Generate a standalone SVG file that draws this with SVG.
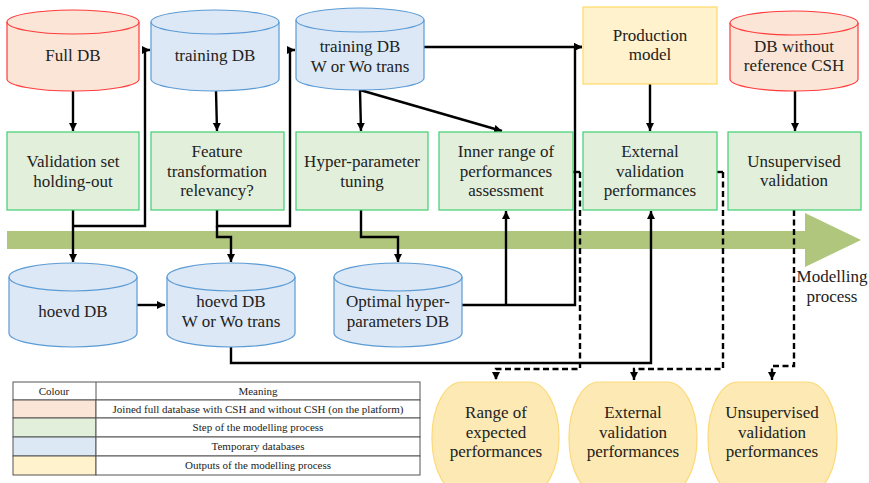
<svg xmlns="http://www.w3.org/2000/svg" width="869" height="483" viewBox="0 0 869 483" font-family="'Liberation Serif', 'Times New Roman', 'DejaVu Serif', serif">
  <style>
    text { fill: #222; text-anchor: middle; }
    .t { font-size: 17px; }
    .lg { font-size: 11px; }
    .red { fill: #fbe5d6; stroke: #ff3b3b; stroke-width: 1.2; }
    .blue { fill: #dce8f5; stroke: #5b9bd5; stroke-width: 1.2; }
    .step { fill: #e2efda; stroke: #3ecf72; stroke-width: 1.2; }
    .prod { fill: #fff2cc; stroke: #ffd966; stroke-width: 1.2; }
    .out { fill: #fde9b3; stroke: #fcd97a; stroke-width: 1.2; }
    .rim { fill: none; }
    .ln { fill: none; stroke: #000; stroke-width: 2.4; }
    .arr { marker-end: url(#ah); }
    .dash { stroke-dasharray: 6 3.5; }
    .cell { stroke: #555; stroke-width: 1; }
  </style>
  <defs>
    <marker id="ah" markerUnits="userSpaceOnUse" markerWidth="10" markerHeight="10" refX="8" refY="4" orient="auto">
      <path d="M0,0 L8,4 L0,8 z" fill="#000"/>
    </marker>
  </defs>

  <rect width="869" height="483" fill="#fff"/>

  <!-- process direction arrow -->
  <g id="process-arrow">
    <polygon points="7,231 805,231 805,213 861,240 805,267 805,249 7,249" fill="#b0c67c"/>
    <text class="t" x="832" y="282">Modelling</text>
    <text class="t" x="832" y="302">process</text>
  </g>

  <!-- connectors -->
  <g id="connectors">
    <path class="ln arr" d="M73,91 V131"/>
    <path class="ln arr" d="M216,91 L217,131"/>
    <path class="ln arr" d="M73,210 V262"/>
    <path class="ln arr" d="M73,226 H145 V50 H150"/>
    <path class="ln arr" d="M217,210 V226 H290 V50 H295"/>
    <path class="ln arr" d="M217,226 V237 H231 V262"/>
    <path class="ln arr" d="M137,305 H165"/>
    <path class="ln arr" d="M360,90 L361,131"/>
    <path class="ln arr" d="M360,90 L502,131"/>
    <path class="ln arr" d="M361,210 V237 H398 V262"/>
    <path class="ln arr" d="M424,47 H582"/>
    <path class="ln arr" d="M462,305 H575 V47 H582"/>
    <path class="ln arr" d="M506,305 V211"/>
    <path class="ln arr" d="M231,347 V363 H651 V211"/>
    <path class="ln arr" d="M650,84 V131"/>
    <path class="ln arr" d="M795,91 V131"/>
    <path class="ln" d="M573,172 H580"/>
    <path class="ln arr dash" d="M580,172 V369 H496 V380"/>
    <path class="ln" d="M717,172 H723"/>
    <path class="ln arr dash" d="M723,172 V369 H634 V380"/>
    <path class="ln arr dash" d="M794,210 V366 H772 V380"/>
  </g>

  <!-- databases -->
  <g id="full-db">
    <path class="red" d="M7,22 A66,12 0 0 1 139,22 V79 A66,12 0 0 1 7,79 Z"/>
    <path class="red rim" d="M7,22 A66,12 0 0 0 139,22"/>
    <text class="t" x="73" y="61">Full DB</text>
  </g>
  <g id="training-db">
    <path class="blue" d="M151,22 A64,12 0 0 1 279,22 V79 A64,12 0 0 1 151,79 Z"/>
    <path class="blue rim" d="M151,22 A64,12 0 0 0 279,22"/>
    <text class="t" x="215" y="61">training DB</text>
  </g>
  <g id="training-db-trans">
    <path class="blue" d="M296,20 A64,12 0 0 1 424,20 V78 A64,12 0 0 1 296,78 Z"/>
    <path class="blue rim" d="M296,20 A64,12 0 0 0 424,20"/>
    <text class="t" x="360" y="52">training DB</text>
    <text class="t" x="360" y="72">W or Wo trans</text>
  </g>
  <g id="production-model">
    <rect class="prod" x="583" y="7" width="134" height="77"/>
    <text class="t" x="650" y="41">Production</text>
    <text class="t" x="650" y="60">model</text>
  </g>
  <g id="db-without-ref">
    <path class="red" d="M730,23 A64,12 0 0 1 858,23 V79 A64,12 0 0 1 730,79 Z"/>
    <path class="red rim" d="M730,23 A64,12 0 0 0 858,23"/>
    <text class="t" x="794" y="52">DB without</text>
    <text class="t" x="794" y="71">reference CSH</text>
  </g>

  <!-- modelling steps -->
  <g id="holding-out">
    <rect class="step" x="7" y="132" width="132" height="78"/>
    <text class="t" x="73" y="167">Validation set</text>
    <text class="t" x="73" y="187">holding-out</text>
  </g>
  <g id="feature-transformation">
    <rect class="step" x="151" y="132" width="133" height="78"/>
    <text class="t" x="217" y="157">Feature</text>
    <text class="t" x="217" y="177">transformation</text>
    <text class="t" x="217" y="196">relevancy?</text>
  </g>
  <g id="hyper-parameter-tuning">
    <rect class="step" x="296" y="132" width="132" height="78"/>
    <text class="t" x="362" y="167">Hyper-parameter</text>
    <text class="t" x="362" y="187">tuning</text>
  </g>
  <g id="inner-range">
    <rect class="step" x="439" y="132" width="134" height="78"/>
    <text class="t" x="506" y="157">Inner range of</text>
    <text class="t" x="506" y="177">performances</text>
    <text class="t" x="506" y="196">assessment</text>
  </g>
  <g id="external-validation">
    <rect class="step" x="583" y="132" width="134" height="78"/>
    <text class="t" x="650" y="157">External</text>
    <text class="t" x="650" y="177">validation</text>
    <text class="t" x="650" y="196">performances</text>
  </g>
  <g id="unsupervised-validation">
    <rect class="step" x="728" y="132" width="133" height="78"/>
    <text class="t" x="794" y="167">Unsupervised</text>
    <text class="t" x="794" y="186">validation</text>
  </g>

  <!-- temporary databases -->
  <g id="hoevd-db">
    <path class="blue" d="M9,277 A64,14 0 0 1 137,277 V333 A64,14 0 0 1 9,333 Z"/>
    <path class="blue rim" d="M9,277 A64,14 0 0 0 137,277"/>
    <text class="t" x="73" y="317">hoevd DB</text>
  </g>
  <g id="hoevd-db-trans">
    <path class="blue" d="M167,277 A64,14 0 0 1 295,277 V333 A64,14 0 0 1 167,333 Z"/>
    <path class="blue rim" d="M167,277 A64,14 0 0 0 295,277"/>
    <text class="t" x="231" y="307">hoevd DB</text>
    <text class="t" x="231" y="327">W or Wo trans</text>
  </g>
  <g id="optimal-hyperparameters-db">
    <path class="blue" d="M334,277 A64,14 0 0 1 462,277 V333 A64,14 0 0 1 334,333 Z"/>
    <path class="blue rim" d="M334,277 A64,14 0 0 0 462,277"/>
    <text class="t" x="398" y="307">Optimal hyper-</text>
    <text class="t" x="398" y="327">parameters DB</text>
  </g>

  <!-- outputs -->
  <g id="range-expected">
    <rect class="out" x="432" y="382" width="127" height="112" rx="30" ry="55"/>
    <text class="t" x="496" y="418">Range of</text>
    <text class="t" x="496" y="438">expected</text>
    <text class="t" x="496" y="457">performances</text>
  </g>
  <g id="external-performances">
    <rect class="out" x="569" y="382" width="128" height="112" rx="30" ry="55"/>
    <text class="t" x="633" y="418">External</text>
    <text class="t" x="633" y="438">validation</text>
    <text class="t" x="633" y="457">performances</text>
  </g>
  <g id="unsupervised-performances">
    <rect class="out" x="708" y="382" width="129" height="112" rx="30" ry="55"/>
    <text class="t" x="772" y="418">Unsupervised</text>
    <text class="t" x="772" y="438">validation</text>
    <text class="t" x="772" y="457">performances</text>
  </g>

  <!-- colour legend -->
  <g id="legend">
    <rect x="13" y="382" width="407" height="18" fill="#fff" class="cell"/>
    <rect x="13" y="400" width="83" height="18" fill="#fbe5d6" class="cell"/>
    <rect x="13" y="418" width="83" height="19" fill="#e2efda" class="cell"/>
    <rect x="13" y="437" width="83" height="19" fill="#dde8f5" class="cell"/>
    <rect x="13" y="456" width="83" height="19" fill="#fff2cc" class="cell"/>
    <rect x="96" y="400" width="324" height="18" fill="#fff" class="cell"/>
    <rect x="96" y="418" width="324" height="19" fill="#fff" class="cell"/>
    <rect x="96" y="437" width="324" height="19" fill="#fff" class="cell"/>
    <rect x="96" y="456" width="324" height="19" fill="#fff" class="cell"/>
    <line x1="96" y1="382" x2="96" y2="400" class="cell"/>
    <text class="lg" x="54" y="395">Colour</text>
    <text class="lg" x="258" y="395">Meaning</text>
    <text class="lg" x="258" y="413">Joined full database with CSH and without CSH (on the platform)</text>
    <text class="lg" x="258" y="431">Step of the modelling process</text>
    <text class="lg" x="258" y="450">Temporary databases</text>
    <text class="lg" x="258" y="469">Outputs of the modelling process</text>
  </g>
</svg>
